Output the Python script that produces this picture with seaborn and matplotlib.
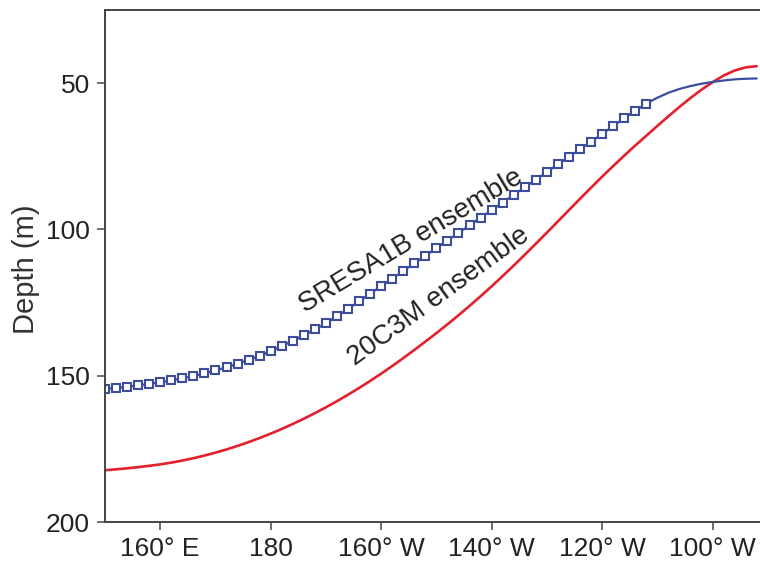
import pandas as pd
import matplotlib
matplotlib.use("Agg")
import matplotlib.pyplot as plt
import seaborn as sns

# longitude in degrees east (150E ... 92W), every 2 degrees
lon = list(range(150, 270, 2))

# SRESA1B ensemble depth (m)
sresa1b = [154.5, 154.2, 153.8, 153.3, 152.8, 152.2, 151.6, 150.9, 150.1, 149.2,
           148.2, 147.1, 145.9, 144.6, 143.2, 141.6, 139.9, 138.1, 136.2, 134.2,
           132.1, 129.7, 127.2, 124.6, 122.0, 119.4, 116.8, 114.2, 111.6, 109.0,
           106.4, 103.8, 101.2, 98.6, 96.0, 93.4, 90.8, 88.2, 85.6, 83.0,
           80.4, 77.8, 75.2, 72.6, 70.0, 67.4, 64.7, 62.0, 59.4, 57.0,
           55.0, 53.3, 52.0, 51.0, 50.2, 49.6, 49.1, 48.7, 48.5, 48.4]

# 20C3M ensemble depth (m)
c20c3m = [182.3, 182.0, 181.65, 181.25, 180.8, 180.3, 179.7, 179.0, 178.2, 177.3,
          176.3, 175.2, 174.0, 172.7, 171.3, 169.8, 168.2, 166.5, 164.7, 162.8,
          160.8, 158.7, 156.5, 154.2, 151.8, 149.3, 146.7, 144.0, 141.2, 138.35,
          135.45, 132.45, 129.35, 126.15, 122.85, 119.45, 115.95, 112.35, 108.65, 104.9,
          101.1, 97.25, 93.4, 89.55, 85.75, 82.0, 78.35, 74.8, 71.35, 68.0,
          64.65, 61.35, 58.15, 55.1, 52.25, 49.7, 47.4, 45.7, 44.6, 44.2]

n_marked = 50  # markers drawn up to ~112 W

xticks = [160, 180, 200, 220, 240, 260]
xticklabels = ["160\u00b0 E", "180", "160\u00b0 W", "140\u00b0 W", "120\u00b0 W", "100\u00b0 W"]
yticks = [50, 100, 150, 200]

df = pd.DataFrame({"lon": lon, "SRESA1B": sresa1b, "20C3M": c20c3m})

sns.set_style("ticks")
plt.rcParams['font.family'] = ['Liberation Sans', 'DejaVu Sans']

fig = plt.figure(figsize=(7.6, 5.7), dpi=100)
ax = fig.add_axes([105 / 760, 48 / 570, 655 / 760, 512 / 570])

blue = "#3b4d9c"
red = "#e3202b"

sns.lineplot(data=df, x="lon", y="20C3M", ax=ax, color=red, linewidth=1.9,
             estimator=None, sort=False)
sns.lineplot(data=df, x="lon", y="SRESA1B", ax=ax, color=blue, linewidth=1.6,
             estimator=None, sort=False, marker="s", markersize=5.5,
             markerfacecolor="white", markeredgecolor=blue, markeredgewidth=1.5,
             markevery=list(range(n_marked)))

ax.set_xlim(150, 268.6)
ax.set_ylim(200, 25)
ax.set_xticks(xticks)
ax.set_xticklabels(xticklabels)
ax.set_yticks(yticks)
ax.set_xlabel("")
ax.set_ylabel("Depth (m)", fontsize=21, color="#333333")
ax.yaxis.set_label_coords(-0.1, 0.494)
ax.tick_params(axis="both", labelsize=19, length=6, width=1.2, color="#555555",
               labelcolor="#222222", pad=5)

for side in ["left", "bottom", "top"]:
    ax.spines[side].set_color("#444444")
    ax.spines[side].set_linewidth(1.4)
ax.spines["right"].set_visible(False)

ax.text(205.5, 104, "SRESA1B ensemble", rotation=31, rotation_mode="anchor",
        ha="center", va="center", fontsize=20, color="#222222")
ax.text(210.5, 123, "20C3M ensemble", rotation=36, rotation_mode="anchor",
        ha="center", va="center", fontsize=20, color="#222222")

fig.savefig("out.png", dpi=100)
